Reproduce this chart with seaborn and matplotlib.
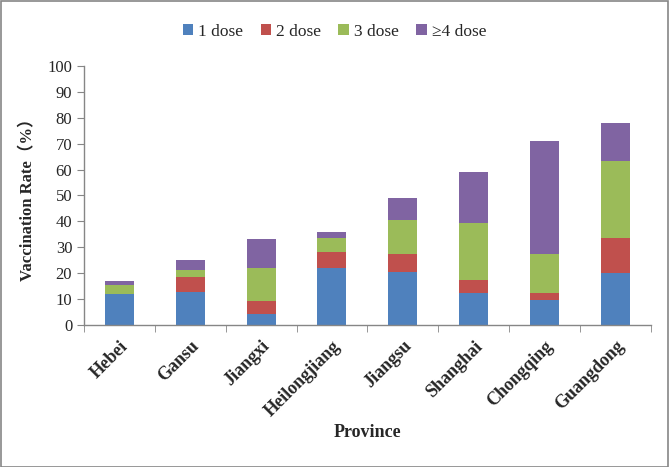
import numpy as np
import matplotlib
matplotlib.use('Agg')
import matplotlib.pyplot as plt
from matplotlib.patches import Patch, Rectangle
import seaborn as sns

# --- data ---
provinces = ['Hebei', 'Gansu', 'Jiangxi', 'Heilongjiang', 'Jiangsu', 'Shanghai', 'Chongqing', 'Guangdong']
dose1 = [12.0, 12.7, 4.2, 22.0, 20.5, 12.4, 9.7, 20.1]
dose2 = [0.0, 5.8, 5.1, 6.2, 6.9, 5.0, 2.7, 13.5]
dose3 = [3.4, 2.7, 12.7, 5.4, 13.1, 22.0, 15.0, 29.7]
dose4 = [1.6, 3.9, 11.2, 2.3, 8.5, 19.7, 43.6, 14.7]
series_names = ['1 dose', '2 dose', '3 dose', '\u22654 dose']
colors = ['#4F81BD', '#C0504D', '#9BBB59', '#8064A2']

sns.set_style('white')
plt.rcParams['font.family'] = ['Liberation Serif', 'Noto Sans CJK SC']

fig = plt.figure(figsize=(6.69, 4.67), dpi=100)
ax = fig.add_axes([0.1256, 0.304, 0.847, 0.555])

# stacked bars: draw cumulative totals from the top down
layers = np.array([dose1, dose2, dose3, dose4])
cum = np.cumsum(layers, axis=0)
for i in range(3, -1, -1):
    sns.barplot(x=provinces, y=cum[i], color=colors[i], width=0.41,
                saturation=1, linewidth=0, ax=ax)

ax.set_ylim(0, 100)
ax.set_xlim(-0.5, 7.5)
ax.set_yticks(range(0, 101, 10))
ax.tick_params(axis='y', labelsize=12, length=5, color='#868686', direction='out', left=True)
ax.set_xticks(np.arange(-0.5, 8, 1), minor=True)
ax.tick_params(axis='x', which='major', length=0, pad=9)
ax.tick_params(axis='x', which='minor', length=5, color='#868686', direction='out', bottom=True)
ax.set_xticklabels(provinces, rotation=45, ha='right', rotation_mode='anchor',
                   fontsize=13, fontweight='bold')

for s in ['top', 'right']:
    ax.spines[s].set_visible(False)
for s in ['left', 'bottom']:
    ax.spines[s].set_color('#868686')
    ax.spines[s].set_linewidth(1)

ax.set_xlabel('Province', fontsize=13, fontweight='bold', labelpad=3)
ax.set_ylabel('Vaccination Rate\uff08%\uff09', fontsize=12, fontweight='bold', labelpad=8)

handles = [Patch(facecolor=c, edgecolor='none') for c in colors]
fig.legend(handles, series_names, loc='center', bbox_to_anchor=(0.5, 0.932), ncol=4,
           frameon=False, fontsize=12.5, handlelength=0.6, handleheight=0.6,
           handletextpad=0.3, columnspacing=1.0)

fig.add_artist(Rectangle((0.001, 0.001), 0.997, 0.997, transform=fig.transFigure,
                         fill=False, edgecolor='#868686', linewidth=1.2))

fig.savefig('out.png', dpi=100)
